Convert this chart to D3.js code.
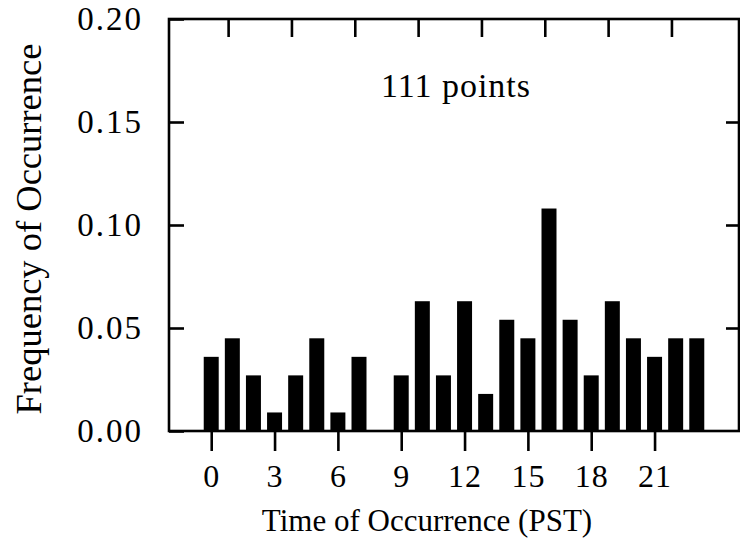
<html>
  <head>
    <script src="https://cdnjs.cloudflare.com/ajax/libs/d3/7.8.5/d3.min.js"></script>
    <style>
    body { margin: 0; background: white; }
    svg { display: block; }
    text {
      font-family: "Liberation Serif", "Times New Roman", serif;
      fill: black;
    }
    .frame, .tick line { stroke: black; stroke-width: 2.6; fill: none; }
    .bar { fill: black; }
    </style>
  </head>
  <body>
    <svg width="740" height="548" id="chart"></svg>

    <script>
    // hour of day (PST) and the share of the 111 events in each hour
    var hours = [0, 1, 2, 3, 4, 5, 6, 7, 8, 9, 10, 11,
                 12, 13, 14, 15, 16, 17, 18, 19, 20, 21, 22, 23];
    var freq = [0.036, 0.045, 0.027, 0.009, 0.027, 0.045, 0.009, 0.036, 0.000, 0.027, 0.063, 0.027,
                0.063, 0.018, 0.054, 0.045, 0.108, 0.054, 0.027, 0.063, 0.045, 0.036, 0.045, 0.045];
    var xTicks = [0, 3, 6, 9, 12, 15, 18, 21];
    var topTicks = [0.8, 3.8, 6.8, 9.8, 12.8, 15.8, 18.8, 21.8];
    var yTicks = [0, 0.05, 0.10, 0.15, 0.20];
    var note = '111 points';

    var plotL = 169, plotR = 739, plotT = 19, plotB = 431;
    var svg = d3.select('#chart');

    var x = d3.scaleLinear().domain([-2, 25]).range([plotL, plotR]);
    var y = d3.scaleLinear().domain([0, 0.2]).range([plotB, plotT]);
    var barW = (x(1) - x(0)) * 0.71;

    svg.selectAll('rect.bar')
      .data(hours)
      .enter()
      .append('rect')
      .attr('class', 'bar')
      .attr('x', function(d) { return x(d) - barW / 2; })
      .attr('width', barW)
      .attr('y', function(d, i) { return y(freq[i]); })
      .attr('height', function(d, i) { return y(0) - y(freq[i]); });

    // bottom axis: ticks hang outside the frame
    svg.append('g')
      .attr('transform', 'translate(0,' + plotB + ')')
      .call(d3.axisBottom(x).tickValues(xTicks).tickSize(20).tickPadding(13))
      .call(function(g) {
        g.select('.domain').remove();
        g.selectAll('text').style('font-size', '32px').attr('letter-spacing', 1);
      });

    // top axis: unlabeled inward ticks
    svg.append('g')
      .attr('transform', 'translate(0,' + plotT + ')')
      .call(d3.axisBottom(x).tickValues(topTicks).tickSize(18).tickFormat(''))
      .call(function(g) { g.select('.domain').remove(); });

    // left axis: inward ticks, labels outside
    svg.append('g')
      .attr('transform', 'translate(' + plotL + ',0)')
      .call(d3.axisRight(y).tickValues(yTicks).tickSize(15).tickFormat(''))
      .call(function(g) { g.select('.domain').remove(); });

    svg.append('g')
      .selectAll('text')
      .data(yTicks)
      .enter()
      .append('text')
      .attr('x', 143)
      .attr('y', function(d) { return y(d) + 11; })
      .attr('text-anchor', 'end')
      .attr('letter-spacing', 2)
      .style('font-size', '33px')
      .text(d3.format('.2f'));

    // right axis: inward ticks only
    svg.append('g')
      .attr('transform', 'translate(' + plotR + ',0)')
      .call(d3.axisLeft(y).tickValues(yTicks.slice(1, 4)).tickSize(13).tickFormat(''))
      .call(function(g) { g.select('.domain').remove(); });

    svg.append('rect')
      .attr('class', 'frame')
      .attr('x', plotL)
      .attr('y', plotT)
      .attr('width', plotR - plotL)
      .attr('height', plotB - plotT);

    svg.append('text')
      .attr('x', 456)
      .attr('y', 97)
      .attr('text-anchor', 'middle')
      .attr('letter-spacing', 1)
      .style('font-size', '34px')
      .text(note);

    svg.append('text')
      .attr('x', 427)
      .attr('y', 531)
      .attr('text-anchor', 'middle')
      .style('font-size', '31px')
      .text('Time of Occurrence (PST)');

    svg.append('text')
      .attr('transform', 'translate(41,229) rotate(-90)')
      .attr('text-anchor', 'middle')
      .style('font-size', '36.5px')
      .text('Frequency of Occurrence');
    </script>
  </body>
</html>
